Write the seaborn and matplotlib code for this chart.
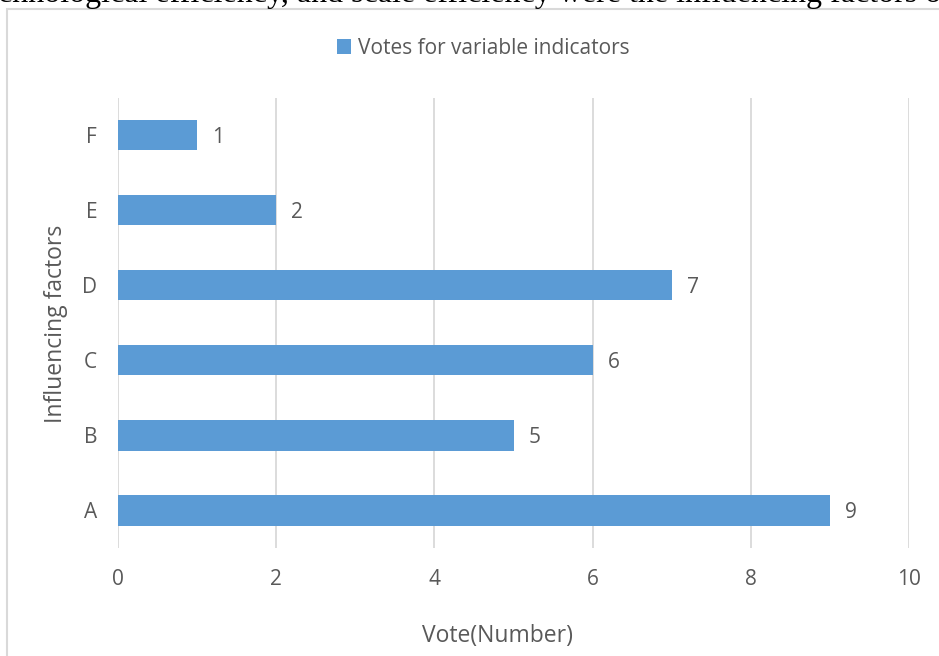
import matplotlib
matplotlib.use("Agg")
import matplotlib.pyplot as plt
from matplotlib.patches import Rectangle
import seaborn as sns
import pandas as pd

categories = ["F", "E", "D", "C", "B", "A"]
votes = [1, 2, 7, 6, 5, 9]
x_ticks = [0, 2, 4, 6, 8, 10]
series_name = "Votes for variable indicators"
x_label = "Vote(Number)"
y_label = "Influencing factors"
top_text = "chnological efficiency, and scale efficiency were the influencing factors o"

sns.set_theme(style="white")
plt.rcParams["font.family"] = ["Open Sans", "DejaVu Sans"]

TXT = "#595959"
BAR = "#5B9BD5"
GRID = "#D9D9D9"

df = pd.DataFrame({"factor": categories, "votes": votes})

W, H = 939, 656
fig = plt.figure(figsize=(W / 100, H / 100), dpi=100)
fig.patch.set_facecolor("white")
L, R, T, B = 118, 909, 98, 548
ax = fig.add_axes([L / W, 1 - B / H, (R - L) / W, (B - T) / H])

sns.barplot(data=df, x="votes", y="factor", order=categories, orient="h",
            color=BAR, saturation=1, width=0.40, ax=ax, label=series_name,
            edgecolor="none")

ax.set_xlim(0, 10)
ax.set_ylim(5.5, -0.5)
ax.set_xticks(x_ticks)
ax.set_xticklabels([str(t) for t in x_ticks])
ax.xaxis.grid(True, color=GRID, linewidth=1.3)
ax.set_axisbelow(True)
for s in ax.spines.values():
    s.set_visible(False)
ax.tick_params(axis="both", length=0, labelsize=15, colors=TXT)
ax.tick_params(axis="x", pad=15)
ax.tick_params(axis="y", pad=15)

for i, v in enumerate(votes):
    ax.annotate(str(v), xy=(v, i), xytext=(11, 0), textcoords="offset points",
                va="center_baseline", ha="left", fontsize=15, color=TXT)

ax.set_xlabel(x_label, fontsize=16.5, color=TXT)
ax.xaxis.set_label_coords((497 - L) / (R - L), -(624 - B) / (B - T))
ax.set_ylabel(y_label, fontsize=16.5, color=TXT)
ax.yaxis.set_label_coords((68 - L) / (R - L), (B - 324) / (B - T))

leg = ax.legend(loc="center", bbox_to_anchor=(483 / W, 1 - 48 / H),
                bbox_transform=fig.transFigure, frameon=False,
                handlelength=0.7, handleheight=0.7, handletextpad=0.3,
                fontsize=15)
for t in leg.get_texts():
    t.set_color(TXT)

fig.patches.append(Rectangle((7 / W, -0.1), 1.2, 1 - 9 / H + 0.1,
                             transform=fig.transFigure, fill=False,
                             edgecolor=GRID, linewidth=1.5, zorder=0))

fig.text(-2 / W, 1 - 2 / H, top_text, fontsize=23,
         family=["Liberation Serif", "DejaVu Serif"], color="black",
         ha="left", va="baseline")

fig.savefig("out.png", dpi=100)
